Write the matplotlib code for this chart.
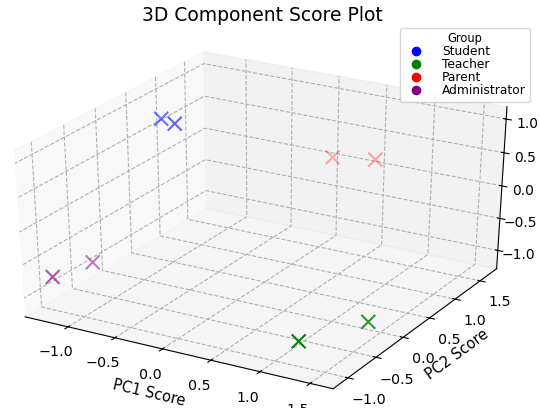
import numpy as np
import matplotlib.pyplot as plt
from matplotlib.lines import Line2D

# PCA scores per group (two respondents each)
groups = ["Student", "Teacher", "Parent", "Administrator"]
colors = ["blue", "green", "red", "purple"]

pc1 = {
    "Student": [-0.98, -0.805],
    "Teacher": [1.17, 1.49],
    "Parent": [0.26, 0.63],
    "Administrator": [-1.234, -1.115],
}
pc2 = {
    "Student": [0.33, 0.28],
    "Teacher": [-0.89, -0.22],
    "Parent": [1.28, 1.42],
    "Administrator": [-1.124, -0.66],
}
pc3 = {
    "Student": [1.0, 1.0],
    "Teacher": [-1.0, -1.0],
    "Parent": [0.3, 0.3],
    "Administrator": [-0.68, -0.68],
}

xs, ys, zs, cs = [], [], [], []
for g, c in zip(groups, colors):
    xs += pc1[g]
    ys += pc2[g]
    zs += pc3[g]
    cs += [c] * len(pc1[g])

fig = plt.figure(figsize=(5.4, 4.08), dpi=100)
ax = fig.add_subplot(111, projection="3d")
# let the 3d box stretch to the full (non-square) axes area
ax.apply_aspect = lambda position=None: None
ax.set_position([-0.030, -0.0135, 1.015, 0.961])

ax.scatter(xs, ys, zs, c=cs, marker="x", s=100)

ax.set_xlim(-1.465, 1.727)
ax.set_ylim(-1.26, 1.84)
ax.set_zlim(-1.29, 1.18)

for axis in (ax.xaxis, ax.yaxis, ax.zaxis):
    axis._axinfo["grid"]["linestyle"] = "--"
ax.tick_params(labelsize=10.3)
ax.tick_params(axis="z", labelsize=10, pad=0)

ax.set_xlabel("PC1 Score", fontsize=10.5)
ax.set_ylabel("PC2 Score", fontsize=10.5, labelpad=1)
fig.suptitle("3D Component Score Plot", fontsize=13.5, x=0.485, y=0.985, va="top")

handles = [Line2D([0], [0], marker="o", color="w", markerfacecolor=c,
                  markersize=8, label=g) for g, c in zip(groups, colors)]
ax.legend(handles=handles, title="Group", loc="upper right", fontsize=8.8,
          title_fontsize=8.3, labelspacing=0.0, borderaxespad=0,
          handletextpad=1.1, borderpad=0.35,
          bbox_to_anchor=(530 / 540, 1 - 28 / 408), bbox_transform=fig.transFigure)

plt.savefig("out.png", dpi=100)
